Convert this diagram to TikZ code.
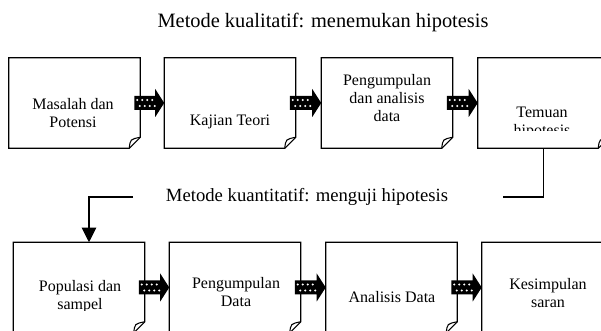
\documentclass[tikz,border=0pt]{standalone}
\usepackage{fontspec}
\setmainfont{Liberation Serif}
\usetikzlibrary{arrows.meta,calc}

\tikzset{
  box/.style={minimum width=98.25pt, minimum height=67.5pt, inner sep=0pt},
  txt/.style={align=center, inner sep=0pt, font=\fontsize{12}{13.5}\selectfont},
  ttl/.style={inner sep=0pt, font=\fontsize{15.3}{18}\selectfont},
  ttlb/.style={inner sep=0pt, font=\fontsize{14}{17}\selectfont},
  edge/.style={line width=0.8pt},
}

% box with folded corner
\newcommand{\docbox}[1]{%
  \draw[edge] ($(#1.south east)+(0,11)$) -- (#1.north east) -- (#1.north west)
    -- (#1.south west) -- ($(#1.south east)+(-11,0)$) -- cycle;
  \draw[edge] ($(#1.south east)+(0,11)$) .. controls ($(#1.south east)+(-10,9)$)
    .. ($(#1.south east)+(-11,0)$);}

% dotted block arrow
\newcommand{\blockarrow}[2]{%
  \fill ($(#1.east)+(-6,7)$) -- ($(#2.west)+(-9,7)$) -- ($(#2.west)+(-9,14)$)
    -- (#2.west) -- ($(#2.west)+(-9,-14)$) -- ($(#2.west)+(-9,-7)$)
    -- ($(#1.east)+(-6,-7)$) -- cycle;
  \foreach \i in {0,1,2,3} {
    \fill[white] ($(#1.east)+(-3+5*\i,3)$) circle (1.1);
    \fill[white] ($(#1.east)+(-0.5+5*\i,-3)$) circle (1.1);
  }}

\begin{document}
\begin{tikzpicture}[x=0.75pt,y=0.75pt]
\useasboundingbox (0,0) rectangle (601,331);
\clip (0,0) rectangle (601,331);

\node[ttl] (kual) at (323,309) {Metode kualitatif: menemukan hipotesis};

% kualitatif
\node[box] (m1) at (74.5,228) {};
\node[box] (m2) at (230,228) {};
\node[box] (m3) at (387,228) {};
\node[box] (m4) at (543.5,228) {};
\foreach \b in {m1,m2,m3,m4} {\docbox{\b}}
\blockarrow{m1}{m2}
\blockarrow{m2}{m3}
\blockarrow{m3}{m4}

\node[txt] (m1t) at (73,218) {Masalah dan\\Potensi};
\node[txt] (m2t) at (230,209) {Kajian Teori};
\node[txt] (m3t) at (387,233) {Pengumpulan\\dan analisis\\data};
\begin{scope}
  \clip (480,200) rectangle (601,300);
  \node[txt] (m4t) at (542,208) {Temuan\\hipotesis};
\end{scope}

% kuantitatif
\node[box] (q1) at (79,43.5) {};
\node[box] (q2) at (235,43.5) {};
\node[box] (q3) at (391.5,43.5) {};
\node[box] (q4) at (547.5,43.5) {};
\foreach \b in {q1,q2,q3,q4} {\docbox{\b}}
\blockarrow{q1}{q2}
\blockarrow{q2}{q3}
\blockarrow{q3}{q4}

\begin{scope}
  \clip (0,20) rectangle (160,100);
  \node[txt] (q1t) at (80,34) {Populasi dan\\sampel};
\end{scope}
\node[txt] (q2t) at (236,39) {Pengumpulan\\Data};
\node[txt] (q3t) at (392,34) {Analisis Data};
\node[txt] (q4t) at (548,38) {Kesimpulan\\saran};

\node[ttlb] (kuan) at (307,134) {Metode kuantitatif: menguji hipotesis};
\coordinate (c1) at (503,134);
\coordinate (c2) at (133,134);
\coordinate (c3) at (89,134);
\draw[edge] (m4.south) |- (c1);
\draw[edge,-{Triangle[length=11pt,width=11pt]}] (c2) -- (c3) -- (c3 |- q1.north);
\end{tikzpicture}
\end{document}
